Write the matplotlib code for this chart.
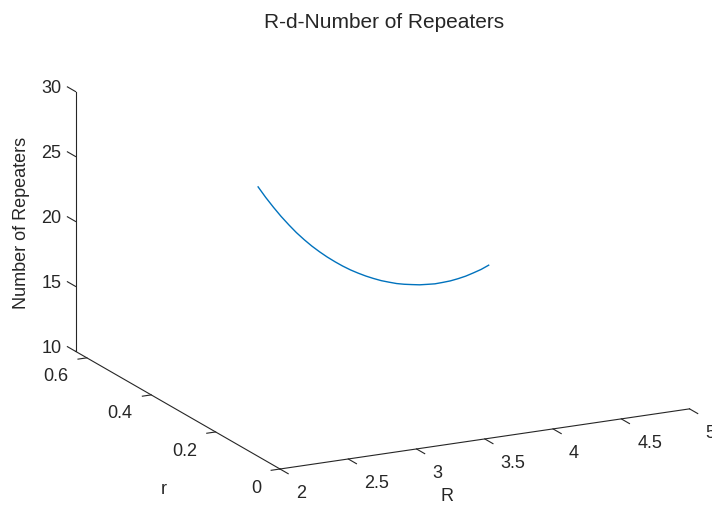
import numpy as np
import matplotlib
matplotlib.use("Agg")
import matplotlib.pyplot as plt
import matplotlib.transforms as mtransforms
from mpl_toolkits.mplot3d import proj3d

# Repeater count along the sampled (R, r) path
R_vals = [2.0, 2.1, 2.2, 2.3, 2.4, 2.5, 2.6, 2.7, 2.8, 2.9, 3.0,
          3.1, 3.2, 3.3, 3.4, 3.5, 3.6, 3.7, 3.8, 3.9, 4.0,
          4.1, 4.2, 4.3, 4.4, 4.5, 4.6, 4.7, 4.8, 4.9, 5.0]
r_vals = [0.068, 0.087, 0.105, 0.124, 0.142, 0.161, 0.179, 0.198, 0.216, 0.235, 0.253,
          0.272, 0.290, 0.309, 0.327, 0.346, 0.364, 0.383, 0.401, 0.420, 0.439,
          0.457, 0.476, 0.494, 0.513, 0.531, 0.550, 0.568, 0.587, 0.605, 0.624]
n_vals = [30.75, 29.52, 28.34, 27.22, 26.15, 25.13, 24.17, 23.26, 22.40, 21.58, 20.80,
          20.05, 19.34, 18.67, 18.03, 17.42, 16.84, 16.30, 15.78, 15.30, 14.85,
          14.42, 14.03, 13.66, 13.34, 13.05, 12.79, 12.58, 12.40, 12.26, 12.16]

R_ticks = [2, 2.5, 3, 3.5, 4, 4.5, 5]
R_ticklabels = ["2", "2.5", "3", "3.5", "4", "4.5", "5"]
r_ticks = [0, 0.2, 0.4, 0.6]
r_ticklabels = ["0", "0.2", "0.4", "0.6"]
n_ticks = [10, 15, 20, 25, 30]
n_ticklabels = ["10", "15", "20", "25", "30"]

R_lim = (2, 5)
r_lim = (0, 0.635)
n_lim = (10, 30)

W, H, DPI = 712, 506, 100
TXT = "#262626"
plt.rcParams["font.family"] = ["Liberation Sans", "DejaVu Sans"]

fig = plt.figure(figsize=(W / DPI, H / DPI), dpi=DPI)
ax = fig.add_axes([0.1, 0.1, 0.8, 0.8], projection="3d", proj_type="ortho")
ax.view_init(elev=16.9, azim=-116.8)
ax.set_box_aspect((1.69, 1.67, 1.0))

ax.plot(R_vals, r_vals, n_vals, color="#0072BD", lw=1.0)

ax.set_xlim(*R_lim)
ax.set_ylim(*r_lim)
ax.set_zlim(*n_lim)
ax.set_xticks(R_ticks, R_ticklabels)
ax.set_yticks(r_ticks, r_ticklabels)
ax.set_zticks(n_ticks, n_ticklabels)

ax.grid(False)
# tick direction (index of the data axis the tick marks run along) and length
tick_style = {
    ax.xaxis: (1, 0.5, 0.0),
    ax.yaxis: (0, 0.27, 0.0),
    ax.zaxis: (1, 0.0, 0.5),
}
for axis, (tdir, t_in, t_out) in tick_style.items():
    axis.pane.set_visible(False)
    axis.line.set_color(TXT)
    axis.line.set_linewidth(0.8)
    axis._get_tickdir = (lambda *a, _d=tdir, **k: _d)
    axis._axinfo["tick"]["inward_factor"] = t_in
    axis._axinfo["tick"]["outward_factor"] = t_out
    axis._axinfo["tick"]["linewidth"] = {True: 0.8, False: 0.5}
    axis._axinfo["tick"]["color"] = TXT
ax.tick_params(axis="both", labelsize=13, colors=TXT, pad=2)

ax.set_xlabel("R", fontsize=13, color=TXT)
ax.set_ylabel("r", fontsize=13, color=TXT)
ax.set_zlabel("Number of Repeaters", fontsize=13, color=TXT)
fig.suptitle("R-d-Number of Repeaters", x=384 / W, y=0.975, fontsize=15, color=TXT)


def corner_px(x, y, z):
    xs, ys, _ = proj3d.proj_transform(x, y, z, ax.get_proj())
    return np.array(ax.transData.transform((xs, ys)))


# Place the square axes so that the front corner and the far end of the
# R axis land on the wanted pixel positions (origin at bottom-left).
front_target = np.array([280.0, H - 470.0])
rend_target = np.array([690.0, H - 413.0])
for _ in range(3):
    fig.canvas.draw()
    pos = ax.get_position()
    side0 = pos.width * W
    c0 = np.array([(pos.x0 + pos.width / 2) * W, (pos.y0 + pos.height / 2) * H])
    o = corner_px(R_lim[0], r_lim[0], n_lim[0])
    p = corner_px(R_lim[1], r_lim[0], n_lim[0])
    s = np.linalg.norm(rend_target - front_target) / np.linalg.norm(p - o)
    side = side0 * s
    c = front_target - (o - c0) * s
    ax.set_position([(c[0] - side / 2) / W, (c[1] - side / 2) / H, side / W, side / H])

fig.canvas.draw()


def nudge(text, dx, dy):
    """Shift a text artist by (dx, dy) pixels on every draw."""
    off = mtransforms.ScaledTranslation(dx / DPI, dy / DPI, fig.dpi_scale_trans)
    text.get_transform = (lambda _o=off: ax.transData + _o)


for t in ax.xaxis.get_major_ticks():
    t.label1.set_horizontalalignment("left")
    nudge(t.label1, 8, 0)
for t in ax.yaxis.get_major_ticks():
    t.label1.set_horizontalalignment("right")
    nudge(t.label1, -2.5, 3)
for t in ax.zaxis.get_major_ticks():
    nudge(t.label1, 0, 10)

nudge(ax.xaxis.label, -58, -20)
nudge(ax.yaxis.label, 26, -47)
nudge(ax.zaxis.label, 6, -6)

fig.savefig("out.png", dpi=DPI)
